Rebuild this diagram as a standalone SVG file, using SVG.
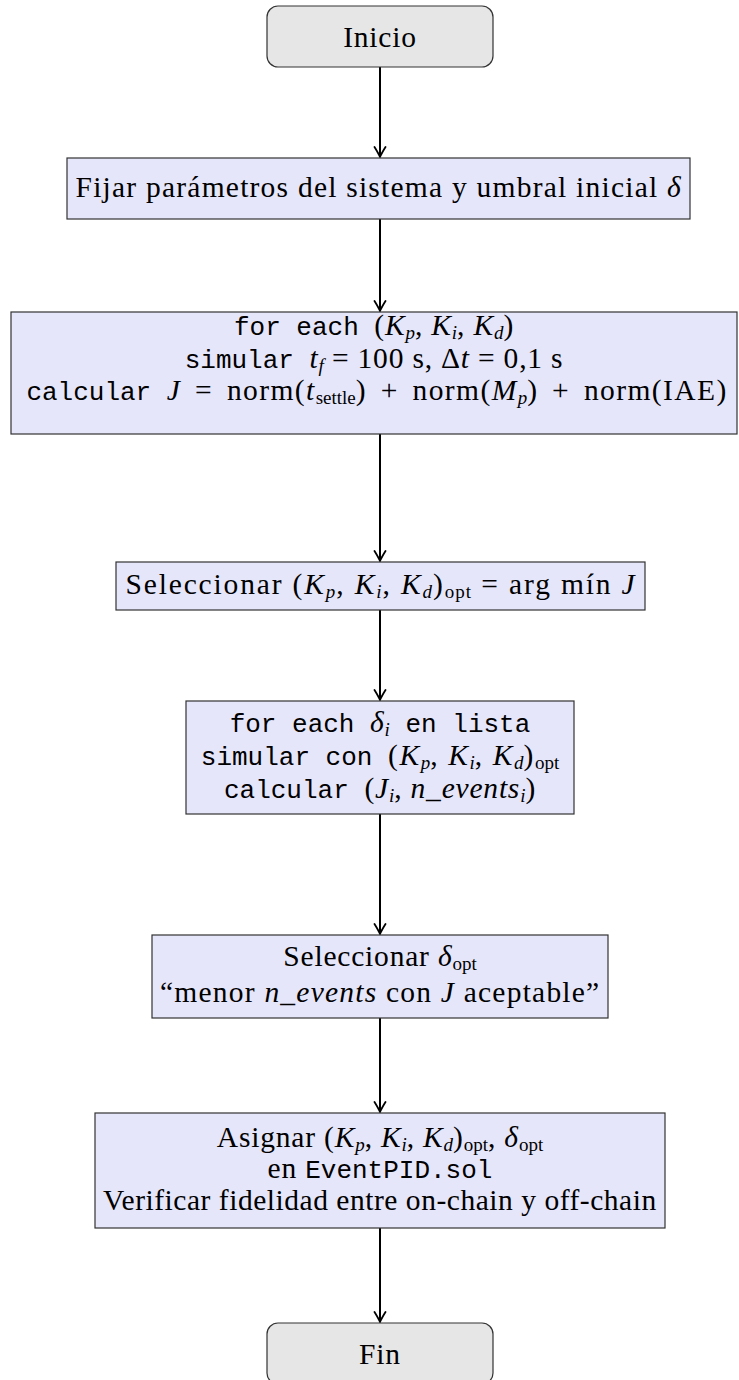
<svg xmlns="http://www.w3.org/2000/svg" width="739" height="1380" viewBox="0 0 739 1380">
<style>
.bg{fill:#ffffff}
.term{fill:#e6e6e6;stroke:#333;stroke-width:1.2}
.proc{fill:#e6e6fa;stroke:#333;stroke-width:1.2}
.t{font-family:"Liberation Serif","DejaVu Serif",serif;font-size:29.5px;letter-spacing:0.8px;fill:#000;text-anchor:middle}
.m{font-family:"Liberation Mono","DejaVu Sans Mono",monospace;font-size:26px;letter-spacing:0px;word-spacing:0px}
.i{font-style:italic}
.s{font-size:19px;letter-spacing:0px}
.wide{letter-spacing:1.4px;word-spacing:5px}
.mid{letter-spacing:1.6px}
.c{stroke:#000;stroke-width:2;fill:none}
</style>
<defs>
<marker id="arr" viewBox="-12 -7 14 14" refX="0" refY="0" markerWidth="14" markerHeight="14" markerUnits="userSpaceOnUse" orient="auto">
<path d="M-10,-5.5 Q-3,-1.2 0,0 Q-3,1.2 -10,5.5" fill="none" stroke="#000" stroke-width="1.8" stroke-linecap="round"/>
</marker>
</defs>
<rect class="bg" x="0" y="0" width="739" height="1380"/>
<g id="connectors">
<line class="c" x1="380" y1="67" x2="380" y2="157" marker-end="url(#arr)"/>
<line class="c" x1="380" y1="219" x2="380" y2="311" marker-end="url(#arr)"/>
<line class="c" x1="380" y1="434" x2="380" y2="561" marker-end="url(#arr)"/>
<line class="c" x1="380" y1="610" x2="380" y2="700" marker-end="url(#arr)"/>
<line class="c" x1="380" y1="814" x2="380" y2="934" marker-end="url(#arr)"/>
<line class="c" x1="380" y1="1018" x2="380" y2="1112" marker-end="url(#arr)"/>
<line class="c" x1="380" y1="1228" x2="380" y2="1322" marker-end="url(#arr)"/>
</g>
<g id="inicio">
<rect class="term" x="267" y="6" width="226" height="61" rx="11"/>
<text class="t" x="380" y="47">Inicio</text>
</g>
<g id="fijar">
<rect class="proc" x="67" y="158" width="623" height="61"/>
<text class="t" x="378.5" y="197" textLength="606" lengthAdjust="spacing">Fijar parámetros del sistema y umbral inicial <tspan class="i">δ</tspan></text>
</g>
<g id="barrido">
<rect class="proc" x="11" y="312" width="726" height="122"/>
<text class="t" x="374" y="335"><tspan class="m">for each </tspan>(<tspan class="i">K</tspan><tspan class="i s" dy="4">p</tspan><tspan dy="-4">, </tspan><tspan class="i">K</tspan><tspan class="i s" dy="4">i</tspan><tspan dy="-4">, </tspan><tspan class="i">K</tspan><tspan class="i s" dy="4">d</tspan><tspan dy="-4">)</tspan></text>
<text class="t" x="374" y="368"><tspan class="m">simular </tspan><tspan class="i">t</tspan><tspan class="i s" dy="4">f</tspan><tspan dy="-4"> = 100 s, Δ</tspan><tspan class="i">t</tspan> = 0,1 s</text>
<text class="t" x="377" y="400"><tspan class="m">calcular </tspan><tspan class="wide"><tspan class="i">J</tspan> = norm(<tspan class="i">t</tspan><tspan class="s" dy="4">settle</tspan><tspan dy="-4">) + norm(</tspan><tspan class="i">M</tspan><tspan class="i s" dy="4">p</tspan><tspan dy="-4">) + norm(IAE)</tspan></tspan></text>
</g>
<g id="seleccionar-k">
<rect class="proc" x="116" y="562" width="529" height="48"/>
<text class="t" x="380.5" y="594" textLength="510" lengthAdjust="spacing">Seleccionar (<tspan class="i">K</tspan><tspan class="i s" dy="4">p</tspan><tspan dy="-4">, </tspan><tspan class="i">K</tspan><tspan class="i s" dy="4">i</tspan><tspan dy="-4">, </tspan><tspan class="i">K</tspan><tspan class="i s" dy="4">d</tspan><tspan dy="-4">)</tspan><tspan class="s" dy="4">opt</tspan><tspan dy="-4"> = arg mín </tspan><tspan class="i">J</tspan></text>
</g>
<g id="barrido-delta">
<rect class="proc" x="186" y="701" width="388" height="113"/>
<text class="t" x="380" y="732"><tspan class="m">for each </tspan><tspan class="i">δ</tspan><tspan class="i s" dy="4">i</tspan><tspan class="m" dy="-4"> en lista</tspan></text>
<text class="t" x="380" y="765"><tspan class="m">simular con </tspan><tspan class="mid">(<tspan class="i">K</tspan><tspan class="i s" dy="4">p</tspan><tspan dy="-4">, </tspan><tspan class="i">K</tspan><tspan class="i s" dy="4">i</tspan><tspan dy="-4">, </tspan><tspan class="i">K</tspan><tspan class="i s" dy="4">d</tspan><tspan dy="-4">)</tspan><tspan class="s" dy="4">opt</tspan></tspan></text>
<text class="t" x="380" y="798"><tspan class="m">calcular </tspan>(<tspan class="i">J</tspan><tspan class="i s" dy="4">i</tspan><tspan dy="-4">, </tspan><tspan class="i">n_events</tspan><tspan class="i s" dy="4">i</tspan><tspan dy="-4">)</tspan></text>
</g>
<g id="seleccionar-delta">
<rect class="proc" x="152" y="935" width="456" height="83"/>
<text class="t" x="380" y="966">Seleccionar <tspan class="i">δ</tspan><tspan class="s" dy="4">opt</tspan></text>
<text class="t" x="380" y="1002" textLength="440" lengthAdjust="spacing">“menor <tspan class="i">n_events</tspan> con <tspan class="i">J</tspan> aceptable”</text>
</g>
<g id="asignar">
<rect class="proc" x="95" y="1113" width="570" height="115"/>
<text class="t" x="380" y="1147">Asignar (<tspan class="i">K</tspan><tspan class="i s" dy="4">p</tspan><tspan dy="-4">, </tspan><tspan class="i">K</tspan><tspan class="i s" dy="4">i</tspan><tspan dy="-4">, </tspan><tspan class="i">K</tspan><tspan class="i s" dy="4">d</tspan><tspan dy="-4">)</tspan><tspan class="s" dy="4">opt</tspan><tspan dy="-4">, </tspan><tspan class="i">δ</tspan><tspan class="s" dy="4">opt</tspan></text>
<text class="t" x="380" y="1178">en <tspan class="m">EventPID.sol</tspan></text>
<text class="t" x="380" y="1210" textLength="554" lengthAdjust="spacing">Verificar fidelidad entre on-chain y off-chain</text>
</g>
<g id="fin">
<rect class="term" x="267" y="1323" width="226" height="61" rx="11"/>
<text class="t" x="380" y="1364">Fin</text>
</g>
</svg>
